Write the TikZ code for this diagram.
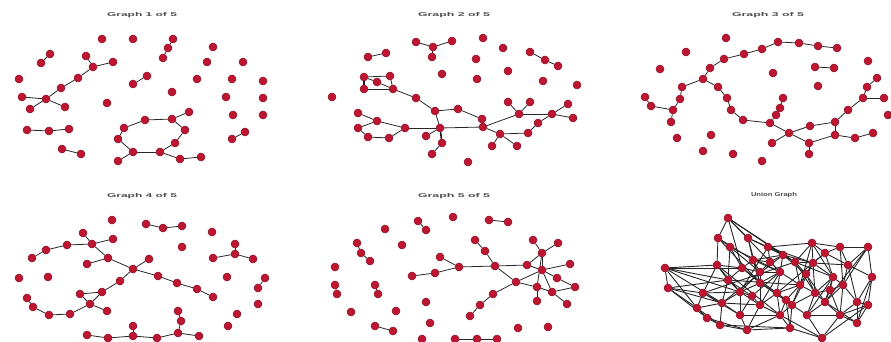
\documentclass[tikz,border=0pt]{standalone}
\usepackage{fontspec}
\usepackage{graphicx}
\usepackage{tikz}
\newfontfamily\titlefont{Liberation Sans}
\definecolor{dotred}{HTML}{BE1530}
\definecolor{dotrim}{HTML}{86122A}
\pgfdeclarelayer{edges}
\pgfsetlayers{edges,main}
\tikzset{
  dot/.style={circle,fill=dotred,draw=dotrim,line width=0.5pt,inner sep=0pt,minimum size=8pt},
  edge/.style={draw=black!85,line width=0.8pt},
  thickedge/.style={draw=black!90,line width=1.6pt},
  unionedge/.style={draw=black!85,line width=0.9pt},
  title/.style={inner sep=0pt,text=black!70,font=\titlefont\bfseries}
}
\newcommand{\gtitle}[2]{\resizebox{#1pt}{4pt}{#2}}

\begin{document}
\begin{tikzpicture}[x=1pt,y=-1pt]
\useasboundingbox (0,0) rectangle (891,342);

\node[title] (t1) at (142,15) {\gtitle{70}{Graph 1 of 5}};
\node[title] (t2) at (454,15) {\gtitle{72}{Graph 2 of 5}};
\node[title] (t3) at (768,15) {\gtitle{72}{Graph 3 of 5}};
\node[title] (t4) at (142,196) {\gtitle{70}{Graph 4 of 5}};
\node[title] (t5) at (454,196) {\gtitle{72}{Graph 5 of 5}};
\node[title] (t6) at (774,195) {\gtitle{46}{Union Graph}};

% graph 1
\foreach \n/\x/\y in {1/102/39,2/133/39,3/173/39,4/168/48,5/163/58,6/213/47,7/50/54,8/41/63,
  9/86/56,10/93/67,11/113/62,12/78/78,13/61/88,14/46/99,15/22/97,16/30/109,17/65/107,18/19/79,
  19/207/62,20/243/62,21/147/76,22/133/84,23/197/79,24/232/79,25/263/81,26/172/92,27/226/97,
  28/263/98,29/107/103,30/189/112,31/172/119,32/145/120,33/124/128,34/185/130,35/233/115,
  36/263/115,37/27/130,38/49/131,39/69/129,40/245/132,41/232/139,42/118/139,43/175/143,
  44/62/149,45/81/154,46/133/152,47/160/152,48/118/161,49/180/159,50/201/157}
  \node[dot] (a\n) at (\x,\y) {};
\begin{pgfonlayer}{edges}
\foreach \p/\q in {3/4,4/5,7/8,9/10,10/11,10/12,12/13,13/14,14/15,14/16,14/17,21/22,37/38,38/39,
  40/41,44/45,33/32,32/31,31/34,34/43,43/47,47/46,46/42,42/33,31/30,46/48,47/49,49/50}
  \draw[edge] (a\p) -- (a\q);
\end{pgfonlayer}

% graph 2
\foreach \n/\x/\y in {1/416/42,2/433/47,3/452/41,4/432/57,5/483/38,6/368/57,7/386/53,8/503/48,
  9/476/59,10/530/52,11/545/60,12/558/66,13/442/74,14/508/71,15/477/79,16/543/81,17/577/85,
  18/332/97,19/364/77,20/390/76,21/377/82,22/364/89,23/393/89,24/416/98,25/435/111,26/440/128,
  27/458/109,28/482/119,29/483/127,30/426/136,31/442/143,32/432/154,33/358/113,34/377/121,
  35/358/128,36/368/137,37/389/138,38/405/128,39/519/114,40/508/102,41/530/102,42/552/114,
  43/568/104,44/573/118,45/538/123,46/528/133,47/500/134,48/492/146,49/517/146,50/468/162}
  \node[dot] (b\n) at (\x,\y) {};
\begin{pgfonlayer}{edges}
\foreach \p/\q in {1/2,2/3,2/4,6/7,10/11,11/12,19/20,22/23,19/21,21/23,20/23,23/24,24/25,25/26,
  25/27,27/28,28/29,26/30,31/32,26/38,26/29,33/34,34/38,34/35,35/36,36/37,37/38,29/39,29/47,
  39/40,39/41,39/42,42/43,42/44,42/45,45/46,46/47,47/48,47/49}
  \draw[edge] (b\p) -- (b\q);
\draw[thickedge] (b19) -- (b22);
\draw[thickedge] (b26) -- (b31);
\end{pgfonlayer}

% graph 3
\foreach \n/\x/\y in {1/726/38,2/686/52,3/660/69,4/762/49,5/778/42,6/799/43,7/818/46,8/837/48,
  9/744/54,10/724/59,11/710/68,12/703/79,13/868/61,14/773/73,15/815/67,16/834/68,17/818/86,
  18/682/87,19/680/99,20/673/110,21/671/122,22/645/97,23/651/106,24/718/87,25/727/98,
  26/731/110,27/743/120,28/770/123,29/783/98,30/780/108,31/776/115,32/789/133,33/772/143,
  34/810/126,35/809/143,36/809/154,37/835/135,38/855/138,39/873/133,40/835/122,41/848/110,
  42/863/98,43/884/98,44/867/87,45/877/78,46/888/115,47/677/138,48/711/135,49/703/151,
  50/733/154,51/762/161}
  \node[dot] (c\n) at (\x,\y) {};
\begin{pgfonlayer}{edges}
\foreach \p/\q in {4/5,5/6,6/7,7/8,12/11,11/10,10/9,9/4,15/16,12/18,18/19,19/20,20/21,20/23,
  23/22,12/24,24/25,25/26,26/27,27/28,29/30,30/31,31/28,28/32,32/35,33/32,32/34,35/36,35/37,
  37/38,38/39,37/40,34/40,40/41,41/42,42/43,42/44,44/45}
  \draw[edge] (c\p) -- (c\q);
\end{pgfonlayer}

% graph 4
\foreach \n/\x/\y in {1/112/220,2/146/224,3/163/228,4/182/226,5/212/232,6/182/247,7/235/244,
  8/235/254,9/213/258,10/253/259,11/83/233,12/92/244,13/113/239,14/67/245,15/46/250,16/32/258,
  17/108/258,18/87/264,19/133/269,20/149/259,21/158/276,22/177/283,23/197/289,24/213/297,
  25/120/281,26/102/292,27/80/294,28/90/304,29/107/311,30/70/314,31/49/315,32/33/307,
  33/27/298,34/19/278,35/48/277,36/227/277,37/265/278,38/258/288,39/258/304,40/237/314,
  41/228/326,42/87/335,43/108/338,44/133/336,45/133/326,46/157/338,47/178/333,48/181/321,
  49/178/311,50/199/336}
  \node[dot] (d\n) at (\x,\y) {};
\begin{pgfonlayer}{edges}
\foreach \p/\q in {2/3,3/4,7/8,8/9,8/10,16/15,15/14,14/12,12/11,12/13,12/17,17/18,17/19,19/20,
  19/21,21/22,22/23,23/24,19/25,25/26,26/27,26/28,27/28,28/29,28/30,30/31,31/32,32/33,37/38,
  42/43,43/44,44/45,44/46,46/47,47/48,48/49,47/50}
  \draw[edge] (d\p) -- (d\q);
\end{pgfonlayer}

% graph 5
\foreach \n/\x/\y in {1/418/221,2/426/230,3/453/217,4/489/220,5/508/222,6/385/229,7/402/245,
  8/357/243,9/361/253,10/370/261,11/335/267,12/335/285,13/337/294,14/375/285,15/378/294,
  16/426/302,17/351/312,18/396/311,19/430/323,20/375/326,21/393/331,22/422/339,23/455/339,
  24/477/339,25/497/339,26/518/328,27/548/327,28/440/257,29/459/267,30/412/276,31/435/273,
  32/475/240,33/485/251,34/495/266,35/516/282,36/493/294,37/480/305,38/470/316,39/533/240,
  40/558/243,41/542/253,42/527/265,43/542/270,44/570/264,45/557/278,46/575/287,47/537/287,
  48/552/292,49/537/301,50/567/304}
  \node[dot] (e\n) at (\x,\y) {};
\begin{pgfonlayer}{edges}
\foreach \p/\q in {1/2,4/5,8/9,9/10,12/13,14/15,20/21,23/24,24/25,28/29,30/31,31/29,29/34,
  32/33,33/34,34/35,34/42,35/36,36/37,37/38,35/43,35/47,39/41,40/41,41/42,41/43,42/43,43/44,
  43/45,45/46,43/48,47/48,48/46,48/50,47/49,41/47}
  \draw[edge] (e\p) -- (e\q);
\end{pgfonlayer}

% union
\foreach \n/\x/\y in {1/728/218,2/718/238,3/748/238,4/730/247,5/768/247,6/812/243,7/840/247,
  8/868/247,9/783/255,10/825/253,11/753/260,12/795/262,13/717/265,14/665/268,15/742/268,
  16/780/272,17/813/263,18/848/265,19/806/274,20/833/277,21/872/277,22/728/280,23/760/283,
  24/800/285,25/843/285,26/668/288,27/703/293,28/740/292,29/777/293,30/815/293,31/857/302,
  32/697/308,33/722/303,34/760/305,35/792/305,36/825/302,37/868/305,38/707/318,39/740/315,
  40/780/315,41/807/315,42/840/315,43/720/325,44/747/330,45/790/328,46/857/323,47/822/338,
  48/770/262,49/752/296,50/786/300,51/830/290,52/760/272}
  \node[dot] (u\n) at (\x,\y) {};
\begin{pgfonlayer}{edges}
\foreach \p/\q in {1/2,1/3,1/9,1/15,2/4,2/13,2/11,3/5,3/11,3/23,4/15,4/22,4/16,5/6,5/9,5/12,
  5/28,6/7,6/10,6/17,6/24,7/8,7/18,7/10,7/25,8/21,8/18,8/36,9/16,9/12,9/17,9/33,10/17,10/20,
  10/29,11/15,11/16,11/23,12/24,12/17,12/30,12/27,13/14,13/22,13/27,13/40,14/26,14/32,14/28,
  15/23,15/29,15/22,16/23,16/24,16/29,16/34,17/20,17/18,17/35,18/25,18/21,18/31,20/25,20/30,
  20/36,20/41,21/37,21/31,22/28,22/33,22/24,23/28,23/34,23/35,24/30,24/35,24/29,25/31,25/36,
  25/42,26/27,26/32,26/38,27/33,27/32,27/39,28/34,28/39,28/33,29/35,29/40,29/34,30/36,30/41,
  30/35,31/37,31/46,32/38,32/43,33/39,33/43,33/34,34/40,34/44,35/41,35/45,35/40,36/42,36/41,
  37/46,37/42,38/43,38/44,39/44,39/40,40/45,40/47,41/47,41/42,42/46,42/47,43/44,44/45,45/47,
  1/16,1/12,2/23,14/33,14/15,26/22,13/28,3/9,5/17,6/20,8/25,19/9,19/24,19/30,19/17,19/12,
  19/36,48/11,48/5,48/16,48/28,48/9,49/28,49/34,49/39,49/22,49/16,50/29,50/35,50/40,50/24,
  50/45,51/30,51/25,51/42,51/36,51/20,52/11,52/15,52/23,52/16,52/4,21/46,37/47,43/45,32/33,
  10/18,12/20,13/15,26/33,14/22,27/28,31/42,36/46,44/40,9/11,6/12,17/24,17/30,29/23}
  \draw[unionedge] (u\p) -- (u\q);
\end{pgfonlayer}
\end{tikzpicture}
\end{document}
